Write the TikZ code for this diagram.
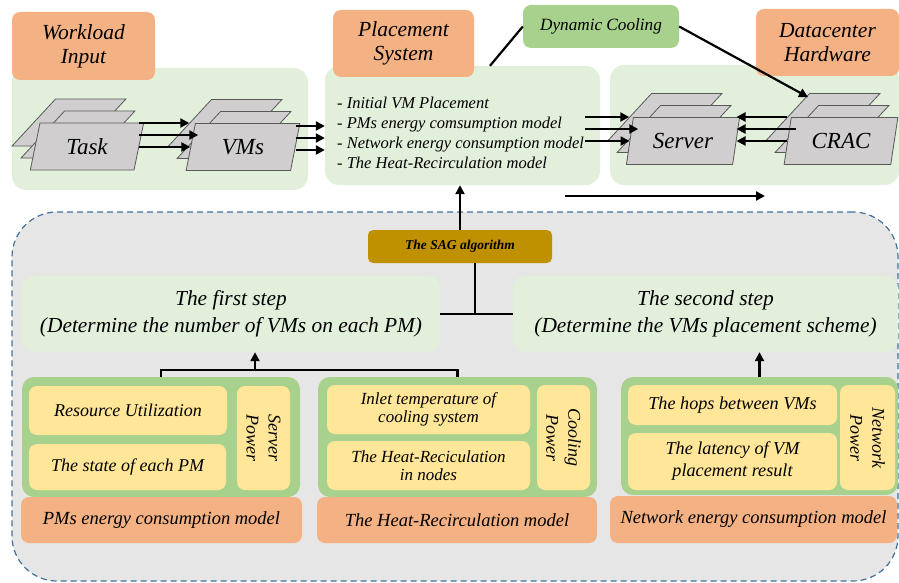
\documentclass[tikz,border=0pt]{standalone}
\usepackage{fontspec}
\setmainfont{Liberation Serif}
\usepackage{tikz}
\usetikzlibrary{arrows.meta,shapes.geometric,calc}

\definecolor{tagorange}{HTML}{F4B183}
\definecolor{panelgreen}{HTML}{E2EFDA}
\definecolor{groupgreen}{HTML}{A9D18E}
\definecolor{itemyellow}{HTML}{FFE699}
\definecolor{saggold}{HTML}{BF9000}
\definecolor{slabgray}{HTML}{D0CECE}
\definecolor{slabedge}{HTML}{595959}
\definecolor{zonegray}{HTML}{E7E6E6}
\definecolor{zoneedge}{HTML}{41719C}

\begin{document}
\begin{tikzpicture}
  [x=1pt, y=-1pt, >={Triangle[length=9pt,width=9pt]},
  box/.style={rectangle, rounded corners=8pt, inner sep=0pt, align=center},
  tag/.style={box, fill=tagorange, font=\itshape\fontsize{21.5}{24}\selectfont},
  panel/.style={box, rounded corners=14pt, fill=panelgreen},
  group/.style={box, rounded corners=12pt, fill=groupgreen},
  item/.style={box, fill=itemyellow, font=\itshape\fontsize{18}{20}\selectfont},
  small item/.style={item, font=\itshape\fontsize{17}{18}\selectfont},
  power/.style={item, rotate=-90, font=\itshape\fontsize{18}{22}\selectfont},
  model/.style={box, fill=tagorange, font=\itshape\fontsize{18.5}{20}\selectfont},
  stepbox/.style={box, rounded corners=12pt, fill=panelgreen,
    font=\itshape\fontsize{21.4}{27}\selectfont},
  slab/.style={trapezium, trapezium left angle=77, trapezium right angle=103,
    trapezium stretches, minimum width=114pt, minimum height=47pt,
    inner sep=2pt, fill=slabgray, draw=slabedge, line width=0.8pt,
    font=\itshape\fontsize{23}{24}\selectfont},
  link/.style={line width=2.2pt}]

  \useasboundingbox (0,0) rectangle (899,583);

  % top row: panels and their titles
  \node[panel, minimum width=296pt, minimum height=122pt] (load) at (160,129) {};
  \node[panel, minimum width=275pt, minimum height=119pt] (place) at (462.5,125.5) {};
  \node[panel, minimum width=289pt, minimum height=120pt] (hw) at (754.5,125) {};
  \node[tag, minimum width=143pt, minimum height=68pt] (loadTag) at (83.5,46) {Workload\\Input};
  \node[tag, minimum width=141pt, minimum height=67pt] (placeTag) at (403.5,43.5) {Placement\\System};
  \node[tag, minimum width=143pt, minimum height=67pt] (hwTag) at (827.5,42.5) {Datacenter\\Hardware};
  \node[box, fill=groupgreen, minimum width=156pt, minimum height=43pt,
    font=\itshape\fontsize{17.2}{19}\selectfont] (dyn) at (601,26.5) {Dynamic Cooling};

  \node[align=left, anchor=west, inner sep=0pt, font=\itshape\fontsize{16.5}{20}\selectfont] (plist) at (337,133)
    {- Initial VM Placement\\- PMs energy comsumption model\\- Network energy consumption model\\- The Heat-Recirculation model};

  % stacked tasks, VMs, servers and CRAC units
  \foreach \i/\d in {1/2,2/1} {
    \node[slab] (task\i) at ($(87,146.5)-\d*(9,12)$) {\strut};
    \node[slab] (vm\i) at ($(243,147)-\d*(9,12)$) {\strut};
    \node[slab] (srv\i) at ($(683,141)-\d*(9,12)$) {\strut};
    \node[slab] (cr\i) at ($(841,141)-\d*(9,12)$) {\strut};
  }
  \node[slab] (task3) at (87,146.5) {Task};
  \node[slab] (vm3) at (243,147) {VMs};
  \node[slab] (srv3) at (683,141) {Server};
  \node[slab] (cr3) at (841,141) {CRAC};

  \coordinate (pout) at ([xshift=-15pt]place.east);
  \foreach \i in {1,2,3} {
    \draw[link,->] (vm\i.west -| task3.east) -- (vm\i.west);
    \draw[link,->] ([yshift=-3pt]vm\i.west -| vm3.east) -- ([yshift=-3pt]vm\i.west -| place.west);
    \draw[link,->] (srv\i.west -| pout) -- (srv\i.west);
    \draw[link,->] (cr\i.west) -- (cr\i.west -| srv3.east);
  }
  \draw[link] ([xshift=27.5pt]place.north) -- (dyn.west);
  \draw[link,->] (dyn.east) -- ([xshift=-15pt,yshift=-4pt]cr1.north);
  \coordinate (flowA) at (565,196);
  \coordinate (flowB) at (765,196);
  \draw[link,->] (flowA) -- (flowB);

  % the SAG part
  \node[box, draw=zoneedge, line width=1.2pt, dash pattern=on 6pt off 4pt,
    rounded corners=45pt, fill=zonegray, minimum width=886pt,
    minimum height=369pt] (zone) at (455,396.5) {};
  \node[box, rounded corners=5pt, fill=saggold, minimum width=184pt, minimum height=33pt,
    font=\bfseries\itshape\fontsize{13.5}{14}\selectfont] (sag) at (460,246.5) {The SAG algorithm};
  \node[stepbox, minimum width=418pt, minimum height=76pt] (step1) at (231,314)
    {The first step\\(Determine the number of VMs on each PM)};
  \node[stepbox, minimum width=385pt, minimum height=76pt] (step2) at (705.5,314)
    {The second step\\(Determine the VMs placement scheme)};

  % power models
  \node[group, minimum width=278pt, minimum height=120pt] (pmGrp) at (161,437) {};
  \node[item, minimum width=198pt, minimum height=49pt] (util) at (128,410.5) {Resource Utilization};
  \node[item, minimum width=197pt, minimum height=46pt] (state) at (127.5,467) {The state of each PM};
  \node[power, minimum width=104pt, minimum height=53pt] (srvPow) at (263.5,438) {Server\\Power};
  \node[model, minimum width=281pt, minimum height=46pt] (pmModel) at (161.5,520) {PMs energy consumption model};

  \node[group, minimum width=279pt, minimum height=120pt] (heatGrp) at (457.5,437) {};
  \node[small item, minimum width=203pt, minimum height=49pt] (inlet) at (428.5,409.5) {Inlet temperature of\\cooling system};
  \node[small item, minimum width=203pt, minimum height=49pt] (recirc) at (428.5,465.5) {The Heat-Reciculation\\in nodes};
  \node[power, minimum width=105pt, minimum height=53pt] (coolPow) at (563.5,437.5) {Cooling\\Power};
  \node[model, minimum width=280pt, minimum height=46pt] (heatModel) at (457,520) {The Heat-Recirculation model};

  \node[group, minimum width=277pt, minimum height=118pt] (netGrp) at (759.5,436) {};
  \node[item, minimum width=209pt, minimum height=40pt, font=\itshape\fontsize{18.2}{22}\selectfont] (hops) at (732.5,405) {The hops between VMs};
  \node[item, minimum width=209pt, minimum height=57pt, font=\itshape\fontsize{18.2}{22}\selectfont] (latency) at (732.5,461.5) {The latency of VM\\placement result};
  \node[power, minimum width=105pt, minimum height=55pt] (netPow) at (867.5,437.5) {Network\\Power};
  \node[model, minimum width=287pt, minimum height=47pt] (netModel) at (753.5,519.5) {Network energy consumption model};

  % links between the steps and the models
  \coordinate (tee) at (475,314);
  \coordinate (brk) at (255,370);
  \draw[link,->] (sag.north) -- (sag.north |- place.south);
  \draw[link] (step1.east) -- (step2.west);
  \draw[link] (sag.south -| tee) -- (tee);
  \draw[link] (pmGrp.north) |- (heatGrp.north |- brk) -- (heatGrp.north);
  \draw[link,->] (brk) -- (brk |- step1.south);
  \draw[link,->] (netGrp.north) -- (netGrp.north |- step2.south);
\end{tikzpicture}
\end{document}
